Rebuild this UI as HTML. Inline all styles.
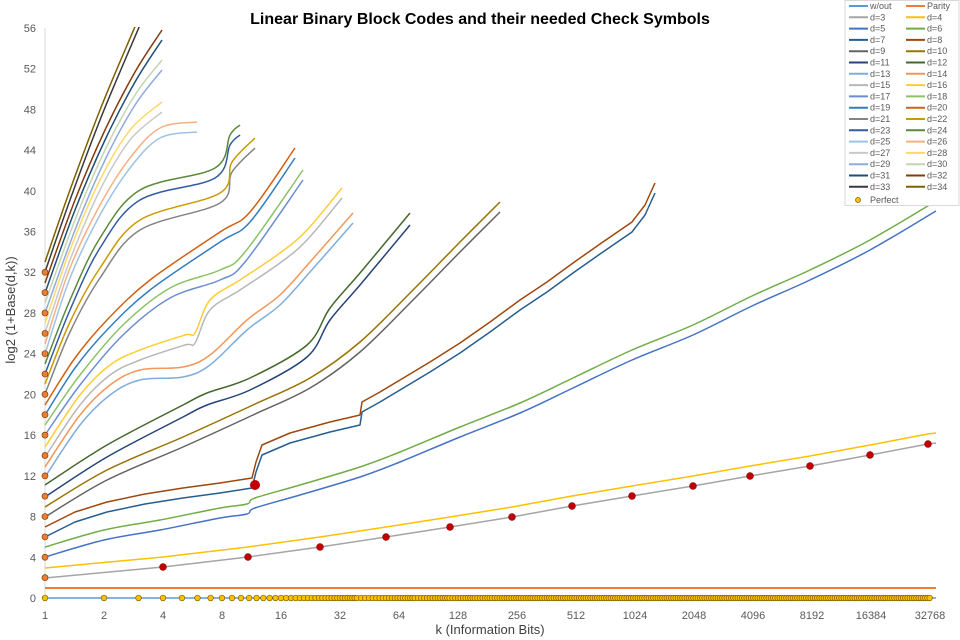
<!DOCTYPE html>
<html><head><meta charset="utf-8"><style>
body{margin:0;background:#fff;}
svg{display:block;font-family:"Liberation Sans",sans-serif;}
</style></head><body>
<svg id="s" width="960" height="640" xmlns="http://www.w3.org/2000/svg">
<rect width="960" height="640" fill="#fff"/>
<text x="480" y="24" text-anchor="middle" font-size="16" font-weight="bold" fill="#000">Linear Binary Block Codes and their needed Check Symbols</text>
<g id="yl" font-size="11" fill="#595959" text-anchor="end"></g>
<g id="xl" font-size="11" fill="#595959" text-anchor="middle"></g>
<line x1="45" y1="28" x2="45" y2="598" stroke="#d9d9d9" stroke-width="1"/>
<text x="490" y="634" text-anchor="middle" font-size="13" fill="#404040">k (Information Bits)</text>
<text transform="translate(15,310) rotate(-90)" text-anchor="middle" font-size="13" fill="#404040">log2  (1+Base(d,k))</text>
<defs><clipPath id="c"><rect x="40" y="27" width="900" height="580"/></clipPath></defs>
<g id="curves" clip-path="url(#c)" fill="none" stroke-width="1.5"></g>
<g id="dots"></g>
<g id="leg" font-size="9" fill="#595959"></g>
</svg>
<script>
var NS="http://www.w3.org/2000/svg";
function el(t,a,p){var e=document.createElementNS(NS,t);for(var k in a)e.setAttribute(k,a[k]);(p||document.getElementById('s')).appendChild(e);return e;}
var yl=document.getElementById('yl'),xl=document.getElementById('xl');
for(var v=0;v<=56;v+=4){var t=el('text',{x:36,y:598-v*10.18+4},yl);t.textContent=v;}
for(var i=0;i<=15;i++){var t=el('text',{x:45+59*i,y:619},xl);t.textContent=Math.pow(2,i);}
function path(pts){var d="M"+pts[0][0]+","+pts[0][1];for(var i=0;i<pts.length-1;i++){var p0=pts[i-1]||pts[i],p1=pts[i],p2=pts[i+1],p3=pts[i+2]||p2;
var c1=[p1[0]+(p2[0]-p0[0])/6,p1[1]+(p2[1]-p0[1])/6],c2=[p2[0]-(p3[0]-p1[0])/6,p2[1]-(p3[1]-p1[1])/6];
d+=" C"+c1.join(",")+" "+c2.join(",")+" "+p2.join(",");}return d;}
function lpath(pts){return "M"+pts.map(function(p){return p.join(",");}).join(" L");}
var C=document.getElementById('curves');
function sh(pts,dy){return pts.map(function(p){return [p[0],p[1]+dy];});}
function line(pts,col,w){el('path',{d:path(pts),stroke:col,'stroke-width':w||1.5},C);}
function pline(pts,col,w){el('path',{d:lpath(pts),stroke:col,'stroke-width':w||1.5,'stroke-linejoin':'round'},C);}
var col={1:"#5B9BD5",2:"#ED7D31",3:"#A5A5A5",4:"#FFC000",5:"#4472C4",6:"#70AD47",7:"#255E91",8:"#9E480E",9:"#636363",10:"#997300",11:"#264478",12:"#43682B",13:"#7CAFDD",14:"#F1975A",15:"#B7B7B7",16:"#FFCD33",17:"#698ED0",18:"#8CC168",19:"#327DC2",20:"#D26012",21:"#848484",22:"#CC9A00",23:"#335AA1",24:"#5A8A39",25:"#9DC3E6",26:"#F4B183",27:"#C9C9C9",28:"#FFD966",29:"#8FAADC",30:"#C5D5B0",31:"#1F4E79",32:"#843C0C",33:"#3A3A3A",34:"#7F6000"};
el('line',{x1:45,y1:598,x2:936,y2:598,stroke:col[1],'stroke-width':1.5},C);
el('line',{x1:45,y1:588,x2:936,y2:588,stroke:col[2],'stroke-width':2},C);
var red=[[163,567],[248,557],[320,547],[386,537],[450,527],[512,517],[572,506],[632,496],[693,486],[750,476],[810,466],[870,455],[928,444]];
var d3=[[45,578]].concat(red).concat([[936,443]]);
pline(d3,col[3]);pline(sh(d3,-10),col[4]);
var d5=[[45,557],[104,540],[160,530],[220,518],[247,514],[255,508],[300,495],[360,477],[400,462],[460,437],[520,413],[573,388],[632,360],[693,335],[752,306],[810,280],[870,250],[936,211]];
line(sh(d5,-10),col[6]);line(d5,col[5]);
var d8=[[45,527],[75,512],[107,502],[145,494],[183,488],[220,483],[252,478],[256,462],[262,445],[290,433],[330,422],[360,415],[362,402],[380,392],[400,380],[430,362],[460,343],[490,322],[520,300],[547,282],[573,263],[600,244],[632,222],[645,205],[655,183]];
pline(d8,col[8]);pline(sh(d8,10),col[7]);
var d9=[[45,517],[107,480],[183,447],[253,415],[310,388],[360,352],[413,300],[460,252],[500,212]];
line(d9,col[9]);line(sh(d9,-10),col[10]);
var d11=[[45,497],[107,457],[183,417],[207,405],[250,390],[307,357],[330,320],[360,285],[410,225]];
line(d11,col[11]);line(sh(d11,-12),col[12]);
var d16=[[45,447],[80,395],[110,365],[140,350],[185,335],[195,333],[210,300],[240,280],[280,253],[307,230],[342,188]];
line(sh(d16,10),col[15]);line(d16,col[16]);
var d14=[[45,467],[80,415],[110,385],[140,370],[183,367],[210,355],[247,320],[280,295],[310,262],[353,213]];
line(sh(d14,10),col[13]);line(d14,col[14]);
var d18=[[45,425],[80,375],[123,325],[170,288],[220,270],[245,252],[303,170]];
line(sh(d18,10),col[17]);line(d18,col[18]);
var d20=[[45,405],[75,358],[107,320],[150,280],[220,232],[250,212],[295,148]];
line(sh(d20,10),col[19]);line(d20,col[20]);
var d22=[[45,384],[70,322],[100,268],[140,220],[220,193],[232,162],[255,138]];
line(sh(d22,10),col[21]);line(d22,col[22]);
var d24=[[45,364],[70,300],[100,238],[140,190],[215,168],[230,135],[240,125]];
line(sh(d24,10),col[23]);line(d24,col[24]);
var d26=[[45,344],[70,268],[100,205],[130,158],[160,128],[197,122]];
line(sh(d26,10),col[25]);line(d26,col[26]);
var d28=[[45,323],[70,250],[100,180],[130,130],[162,102]];
line(sh(d28,10),col[27]);line(d28,col[28]);
var d30=[[45,303],[75,220],[105,150],[135,95],[162,60]];
line(sh(d30,10),col[29]);line(d30,col[30]);
var d32=[[45,283],[75,200],[105,130],[135,72],[162,30]];
line(sh(d32,10),col[31]);line(d32,col[32]);
var d34=[[45,262],[70,190],[100,110],[125,50],[140,15]];
line(sh(d34,10),col[33]);line(d34,col[34]);
var D=document.getElementById('dots');
var lx=-99;
for(var k=1;k<=32768;k++){var x=45+59*Math.log2(k);if(x-lx<2.2)continue;lx=x;el('circle',{cx:x,cy:598,r:2.8,fill:"#FFC000",stroke:"#7F6000",'stroke-width':0.7},D);}
for(var v=2;v<=32;v+=2)el('circle',{cx:45,cy:598-v*10.18,r:3,fill:"#ED7D31",stroke:"#7F3F00",'stroke-width':0.7},D);
red.forEach(function(p){el('circle',{cx:p[0],cy:p[1],r:3.5,fill:"#C00000",stroke:"#7f0000",'stroke-width':0.5},D);});
el('circle',{cx:255,cy:485,r:5,fill:"#C00000"},D);
var L=document.getElementById('leg');
el('rect',{x:845,y:0.5,width:114,height:205,fill:"#fff",stroke:"#d9d9d9"},L);
var names=["w/out","Parity"];for(var d=3;d<=34;d++)names.push("d="+d);
for(var i=0;i<34;i++){var r=Math.floor(i/2),c=i%2,y=6+r*11.3,x0=c?906:849;
el('line',{x1:x0,y1:y,x2:x0+19,y2:y,stroke:col[i+1],'stroke-width':2},L);
var t=el('text',{x:x0+21,y:y+3},L);t.textContent=names[i];}
el('circle',{cx:858,cy:200,r:2.5,fill:"#FFC000",stroke:"#7F6000",'stroke-width':0.7},L);
var t=el('text',{x:870,y:203},L);t.textContent="Perfect";
</script>
</body></html>
